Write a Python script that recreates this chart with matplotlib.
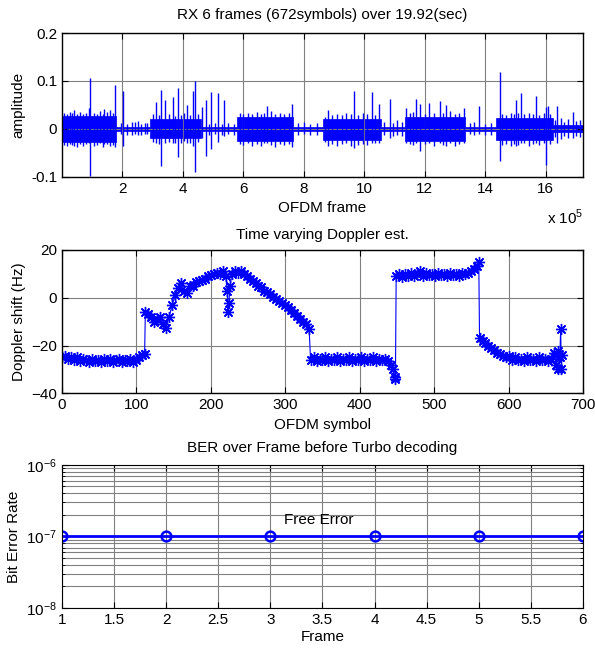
import numpy as np
import matplotlib.pyplot as plt
from matplotlib.ticker import FixedLocator, FuncFormatter

plt.rcParams['font.family'] = ['Liberation Sans', 'DejaVu Sans']
plt.rcParams['mathtext.fontset'] = 'custom'
plt.rcParams['mathtext.rm'] = 'Liberation Sans'
plt.rcParams['font.size'] = 11

# --- RX signal: envelope of the dense bursts (x in 1e5 samples) ---
seg_start = [0.0, 1.8, 2.9, 4.6, 5.8, 7.65, 8.65, 10.55, 11.35, 13.35, 14.37, 16.25]
seg_end = [1.8, 2.9, 4.6, 5.8, 7.65, 8.65, 10.55, 11.35, 13.35, 14.37, 16.25, 17.24]
seg_top = [0.026, 0.004, 0.021, 0.004, 0.024, 0.004, 0.021, 0.004, 0.025, 0.004, 0.022, 0.007]
seg_bot = [-0.027, -0.004, -0.019, -0.004, -0.026, -0.004, -0.023, -0.004, -0.025, -0.004, -0.024, -0.007]

# large spikes sticking out of the bursts
spike_x = [0.4, 0.9, 0.94, 1.4, 1.6, 1.75, 2.02, 2.3, 2.5, 2.75, 3.1, 3.29, 3.42, 3.67,
           3.85, 4.15, 4.35, 4.40, 4.62, 4.75, 4.92, 5.17, 5.36, 6.8, 7.6, 8.8, 9.65,
           10.25, 10.5, 10.84, 11.4, 11.71, 11.85, 12.15, 12.5, 12.7, 13.3, 13.8, 14.48,
           15.03, 15.18, 15.69, 16.0, 16.08, 16.38, 16.9]
spike_hi = [0.040, 0.044, 0.107, 0.042, 0.040, 0.091, 0.079, 0.015, 0.016, 0.012, 0.056,
            0.082, 0.060, 0.066, 0.086, 0.049, 0.079, 0.099, 0.045, 0.060, 0.077, 0.075,
            0.061, 0.047, 0.051, 0.040, 0.079, 0.077, 0.052, 0.062, 0.044, 0.062, 0.052,
            0.054, 0.059, 0.050, 0.044, 0.047, 0.119, 0.061, 0.074, 0.069, 0.046, 0.047,
            0.047, 0.036]
spike_lo = [-0.035, -0.030, -0.099, -0.032, -0.035, -0.038, -0.035, -0.012, -0.014, -0.010,
            -0.030, -0.077, -0.030, -0.030, -0.059, -0.030, -0.035, -0.091, -0.020, -0.056,
            -0.042, -0.028, -0.015, -0.030, -0.038, -0.035, -0.040, -0.030, -0.030, -0.020,
            -0.030, -0.030, -0.046, -0.030, -0.030, -0.035, -0.030, -0.010, -0.068, -0.035,
            -0.030, -0.030, -0.076, -0.020, -0.030, -0.020]

# small spikes that make the burst edges ragged
fine_x = [0.05, 0.15, 0.25, 0.33, 0.5, 0.6, 0.7, 0.8, 1.05, 1.15, 1.25, 1.35, 1.5, 1.68,
          1.95, 2.15, 2.4, 2.62, 2.82,
          3.0, 3.2, 3.55, 3.75, 3.95, 4.05, 4.25, 4.5,
          4.85, 5.05, 5.28, 5.5, 5.7,
          5.9, 6.0, 6.15, 6.3, 6.45, 6.6, 6.7, 6.9, 7.05, 7.2, 7.35, 7.5,
          7.8, 8.0, 8.2, 8.45,
          8.7, 8.95, 9.1, 9.25, 9.4, 9.55, 9.8, 9.95, 10.1, 10.35,
          10.65, 10.95, 11.1, 11.25,
          11.5, 11.6, 12.0, 12.3, 12.6, 12.85, 13.0, 13.15,
          13.5, 13.65, 14.0, 14.2,
          14.55, 14.7, 14.85, 14.95, 15.1, 15.3, 15.45, 15.6, 15.8, 15.95, 16.15,
          16.3, 16.5, 16.6, 16.75, 17.0, 17.15]
fine_hi = [0.033, 0.030, 0.035, 0.032, 0.031, 0.036, 0.030, 0.034, 0.033, 0.030, 0.038,
           0.031, 0.035, 0.032,
           0.012, 0.010, 0.014, 0.011, 0.013,
           0.030, 0.028, 0.031, 0.027, 0.029, 0.032, 0.028, 0.030,
           0.011, 0.013, 0.010, 0.012, 0.011,
           0.032, 0.030, 0.034, 0.031, 0.036, 0.030, 0.033, 0.037, 0.031, 0.034, 0.030, 0.032,
           0.012, 0.014, 0.011, 0.013,
           0.024, 0.028, 0.031, 0.029, 0.033, 0.030, 0.028, 0.034, 0.031, 0.029,
           0.015, 0.012, 0.018, 0.014,
           0.033, 0.036, 0.031, 0.034, 0.032, 0.037, 0.030, 0.033,
           0.012, 0.014, 0.011, 0.013,
           0.031, 0.029, 0.033, 0.030, 0.032, 0.030, 0.034, 0.031, 0.029, 0.032, 0.030,
           0.018, 0.022, 0.015, 0.020, 0.016, 0.019]
fine_lo = [-0.033, -0.036, -0.031, -0.034, -0.038, -0.032, -0.035, -0.031, -0.036, -0.033,
           -0.030, -0.037, -0.032, -0.034,
           -0.011, -0.013, -0.010, -0.012, -0.011,
           -0.028, -0.031, -0.027, -0.030, -0.029, -0.026, -0.030, -0.028,
           -0.012, -0.010, -0.013, -0.011, -0.012,
           -0.031, -0.034, -0.030, -0.036, -0.032, -0.035, -0.030, -0.033, -0.037, -0.031,
           -0.034, -0.032,
           -0.013, -0.011, -0.014, -0.012,
           -0.028, -0.031, -0.035, -0.032, -0.030, -0.036, -0.033, -0.031, -0.034, -0.030,
           -0.014, -0.016, -0.012, -0.015,
           -0.032, -0.034, -0.031, -0.036, -0.033, -0.030, -0.035, -0.032,
           -0.011, -0.013, -0.012, -0.014,
           -0.033, -0.031, -0.036, -0.032, -0.034, -0.030, -0.035, -0.031, -0.033, -0.030,
           -0.032,
           -0.017, -0.021, -0.016, -0.019, -0.015, -0.018]

# --- Doppler estimate per OFDM symbol ---
dop_sym = [0, 4, 8, 12, 16, 20, 24, 28, 32, 36, 40, 44, 48, 52, 56, 60, 64, 68, 72, 76, 80,
           84, 88, 92, 96, 100, 104, 108, 111,
           112, 116, 120, 124, 128, 132, 136, 140, 144, 148, 152, 156, 160, 164, 168, 172,
           176, 180, 184, 188, 192, 196, 200, 204, 208, 212, 216, 220, 222, 223, 224, 226,
           228, 232, 236, 240, 244, 248, 252, 256, 260, 264, 268, 272, 276, 280, 284, 288,
           292, 296, 300, 304, 308, 312, 316, 320, 324, 328, 332,
           334, 338, 342, 346, 350, 354, 358, 362, 366, 370, 374, 378, 382, 386, 390, 394,
           398, 402, 406, 410, 414, 418, 422, 426, 430, 434, 438, 442, 445, 447, 448,
           449, 453, 457, 461, 465, 469, 473, 477, 481, 485, 489, 493, 497, 501, 505, 509,
           513, 517, 521, 525, 529, 533, 537, 541, 545, 549, 553, 557, 560,
           561, 565, 569, 573, 577, 581, 585, 589, 593, 597, 601, 605, 609, 613, 617, 621,
           625, 629, 633, 637, 641, 645, 649, 653, 657, 661, 664, 666, 667, 669, 670, 671, 672]
dop_hz = [-25.0, -24.5, -25.5, -25.0, -26.0, -25.0, -26.5, -25.5, -26.0, -27.0, -25.5, -26.5,
          -26.0, -27.0, -25.5, -26.5, -25.5, -27.0, -26.0, -25.5, -27.0, -26.0, -26.5, -25.5,
          -27.0, -26.0, -25.0, -24.0, -23.5,
          -6.0, -7.0, -8.0, -10.0, -9.0, -8.0, -11.0, -12.5, -8.0, -3.0, 1.0, 4.0, 6.0, 3.0,
          2.0, 5.0, 5.0, 6.5, 7.0, 7.5, 8.0, 9.0, 9.5, 10.0, 10.5, 10.0, 11.0, 9.0, 3.0,
          -6.0, -2.0, 5.0, 10.0, 11.0, 10.5, 11.0, 10.0, 9.0, 8.0, 7.0, 6.0, 5.0, 4.5, 3.0,
          2.5, 1.5, 0.5, -0.5, -1.5, -2.0, -3.0, -4.0, -5.0, -6.5, -7.5, -9.0, -10.0, -11.0,
          -13.0,
          -26.0, -25.0, -26.5, -25.5, -26.0, -25.0, -26.5, -25.5, -26.0, -25.0, -26.5, -25.5,
          -26.0, -25.0, -26.5, -25.5, -26.0, -25.0, -26.5, -25.5, -26.0, -25.0, -26.5, -25.5,
          -26.0, -25.5, -26.5, -28.0, -30.0, -33.0, -34.0,
          9.0, 10.0, 8.5, 10.0, 9.0, 10.5, 9.0, 10.0, 11.0, 9.0, 10.5, 9.5, 10.0, 9.0, 10.5,
          9.5, 10.0, 9.0, 10.5, 9.5, 10.0, 9.0, 10.5, 10.0, 10.5, 11.0, 12.0, 13.5, 15.0,
          -17.0, -18.0, -19.0, -20.0, -21.0, -22.0, -23.0, -23.5, -24.5, -25.0, -24.5, -26.0,
          -25.0, -26.0, -25.5, -26.5, -25.0, -26.0, -25.5, -26.5, -25.0, -26.0, -25.5, -26.5,
          -25.5, -23.0, -28.0, -22.5, -30.0, -25.0, -13.0, -30.0, -24.0]

# --- BER per frame ---
frames = [1, 2, 3, 4, 5, 6]
ber = [1e-7, 1e-7, 1e-7, 1e-7, 1e-7, 1e-7]


def style(ax):
    ax.tick_params(direction='in', top=True, right=True, length=4, labelsize=11)
    ax.grid(True, color='0.5', lw=0.8)
    for s in ax.spines.values():
        s.set_linewidth(1.0)


fig = plt.figure(figsize=(5.95, 6.51), dpi=100)

# panel 1
ax1 = fig.add_axes([0.1042, 0.7286, 0.8756, 0.2207])
ex, et, eb = [], [], []
for a, b, t, lo in zip(seg_start, seg_end, seg_top, seg_bot):
    ex += [a * 1e5, b * 1e5]
    et += [t, t]
    eb += [lo, lo]
ax1.fill_between(ex, eb, et, color='blue', lw=0.5)
ax1.vlines(np.array(fine_x) * 1e5, fine_lo, fine_hi, color='blue', lw=1.0)
ax1.vlines(np.array(spike_x) * 1e5, spike_lo, spike_hi, color='blue', lw=1.0)
ax1.set_xlim(0, 17.24e5)
ax1.set_ylim(-0.1, 0.2)
ax1.xaxis.set_major_locator(FixedLocator([2e5, 4e5, 6e5, 8e5, 10e5, 12e5, 14e5, 16e5]))
ax1.xaxis.set_major_formatter(FuncFormatter(lambda v, p: '%d' % round(v / 1e5)))
ax1.set_yticks([-0.1, 0, 0.1, 0.2])
ax1.set_yticklabels(['-0.1', '0', '0.1', '0.2'])
style(ax1)
ax1.set_title('RX 6 frames (672symbols) over 19.92(sec)', fontsize=11, pad=10)
ax1.set_xlabel('OFDM frame', fontsize=11)
ax1.set_ylabel('amplitude', fontsize=11)
ax1.text(1.0, -0.28, r'x 10$^{5}$', transform=ax1.transAxes, ha='right', va='center',
         fontsize=11)

# panel 2 (MATLAB-like asterisk markers)
ax2 = fig.add_axes([0.1042, 0.3959, 0.8756, 0.2201])
ax2.plot(dop_sym, dop_hz, color='blue', lw=0.8, marker=(8, 2, 0), ms=8, mew=1.0)
ax2.set_xlim(0, 700)
ax2.set_ylim(-40, 20)
ax2.set_xticks(range(0, 701, 100))
ax2.set_yticks([-40, -20, 0, 20])
style(ax2)
ax2.set_title('Time varying Doppler est.', fontsize=11, pad=8)
ax2.set_xlabel('OFDM symbol', fontsize=11)
ax2.set_ylabel('Doppler shift (Hz)', fontsize=11)

# panel 3
ax3 = fig.add_axes([0.1042, 0.0661, 0.8756, 0.2197])
ax3.semilogy(frames, ber, color='blue', lw=2, marker='o', ms=7, mfc='none', mew=1.8)
ax3.set_xlim(1, 6)
ax3.set_ylim(1e-8, 1e-6)
ax3.set_xticks(np.arange(1, 6.01, 0.5))
ax3.set_xticklabels(['1', '1.5', '2', '2.5', '3', '3.5', '4', '4.5', '5', '5.5', '6'])
ax3.tick_params(direction='in', top=True, right=True, length=4, labelsize=11)
ax3.tick_params(which='minor', direction='in', top=True, right=True, length=2)
ax3.grid(True, which='both', color='0.5', lw=0.8)
ax3.text(3.46, 1.7e-7, 'Free Error', fontsize=11, ha='center', va='center')
ax3.set_title('BER over Frame before Turbo decoding', fontsize=11, pad=9)
ax3.set_xlabel('Frame', fontsize=11, labelpad=2)
ax3.set_ylabel('Bit Error Rate', fontsize=11)

fig.savefig('out.png', dpi=100)
